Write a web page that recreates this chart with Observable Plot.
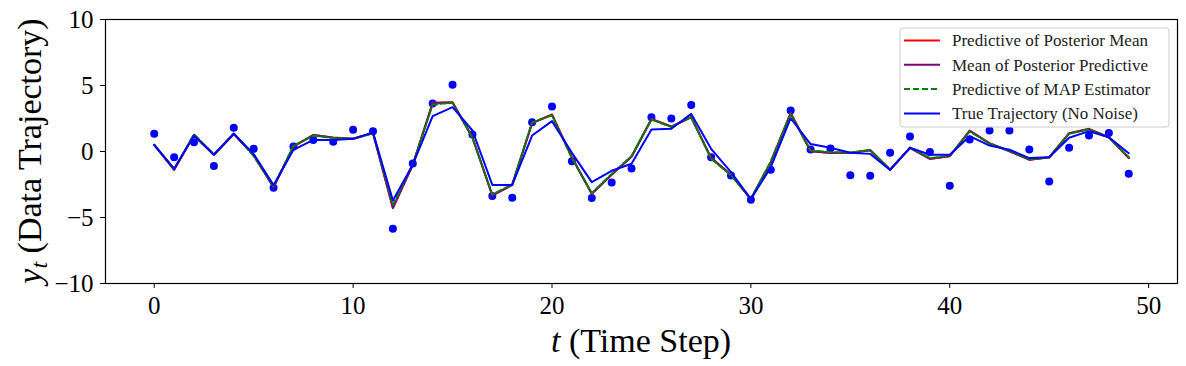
<!DOCTYPE html>
<html><head><meta charset="utf-8">
<script src="https://cdn.jsdelivr.net/npm/d3@7"></script>
<script src="https://cdn.jsdelivr.net/npm/@observablehq/plot@0.6"></script>
<style>body{margin:0;background:#fff}#chart{width:1186px;height:366px}</style>
</head><body><div id="chart"></div>
<script>
const timeSteps = d3.range(50);
const observations = [1.34,-0.43,0.71,-1.09,1.79,0.2,-2.75,0.38,0.88,0.73,1.64,1.54,
  -5.86,-0.91,3.64,5.05,1.29,-3.38,-3.51,2.22,3.41,-0.73,-3.53,-2.35,-1.29,2.6,2.5,
  3.53,-0.43,-1.82,-3.66,-1.39,3.1,0.15,0.23,-1.79,-1.84,-0.1,1.14,
  -0.03,-2.6,0.91,1.59,1.59,0.15,-2.27,0.28,1.21,1.41,-1.69];
const predPosteriorMean = [0.5,-1.39,1.26,-0.25,1.34,-0.25,-2.7,0.38,1.26,1.06,0.96,1.41,
  -4.29,-1.0,3.69,3.74,1.08,-3.33,-2.53,2.17,2.8,-0.43,-3.21,-1.76,-0.38,2.47,1.89,
  2.6,-0.48,-1.76,-3.6,-0.81,2.93,0.03,-0.1,-0.1,0.1,-1.39,0.28,
  -0.56,-0.35,1.59,0.63,0.03,-0.63,-0.43,1.39,1.72,1.08,-0.5];
const meanPosteriorPredictive = [0.5,-1.38,1.25,-0.25,1.33,-0.27,-2.72,0.37,1.25,1.05,0.95,1.4,
  -4.27,-1.02,3.67,3.72,1.06,-3.33,-2.53,2.15,2.78,-0.45,-3.2,-1.75,-0.4,2.45,1.88,
  2.58,-0.5,-1.77,-3.6,-0.83,2.9,0.02,-0.11,-0.1,0.09,-1.38,0.27,
  -0.55,-0.36,1.57,0.62,0.02,-0.62,-0.44,1.37,1.7,1.07,-0.48];
const predMAP = [0.5,-1.32,1.3,-0.22,1.36,-0.35,-2.65,0.42,1.2,1.02,0.98,1.38,
  -4.05,-0.95,3.55,3.7,1.02,-3.25,-2.5,2.2,2.75,-0.5,-3.15,-1.7,-0.35,2.42,1.85,
  2.62,-0.55,-1.8,-3.58,-0.75,2.85,0.08,-0.05,-0.08,0.12,-1.36,0.3,
  -0.5,-0.32,1.52,0.6,0.05,-0.6,-0.45,1.35,1.68,1.05,-0.42];
const trueTrajectory = [0.5,-1.3,1.2,-0.25,1.34,-0.2,-2.55,0.13,0.88,0.88,0.96,1.45,
  -3.71,-1.0,2.68,3.36,1.59,-2.53,-2.53,1.21,2.3,-0.1,-2.32,-1.46,-0.93,1.67,1.72,
  2.85,0.2,-1.56,-3.6,-1.19,2.52,0.56,0.28,-0.1,-0.18,-1.39,0.28,
  -0.25,-0.25,1.16,0.45,0.13,-0.5,-0.43,1.04,1.54,1.08,-0.13];
const xTicks = [0,10,20,30,40,50];
const yTicks = [-10,-5,0,5,10];
const seriesNames = ["Predictive of Posterior Mean","Mean of Posterior Predictive","Predictive of MAP Estimator","True Trajectory (No Noise)"];
const seriesColors = ["#ff0000","#800080","#008000","#0000ff"];
const seriesDash = [null,null,"6,3",null];

const rows = vals => timeSteps.map((t,i)=>({t, y: vals[i]}));
const plot = Plot.plot({
  width:1186, height:366, marginLeft:105, marginRight:9, marginTop:19, marginBottom:83,
  style:{fontFamily:"'Liberation Serif', serif", background:"white", color:"black", overflow:"visible"},
  x:{domain:[-2.45,51.45]}, y:{domain:[-10,10]},
  marks:[
    Plot.dot(rows(observations), {x:"t", y:"y", r:4, fill:"#0000ff", stroke:"none"}),
    Plot.line(rows(predPosteriorMean), {x:"t", y:"y", stroke:seriesColors[0], strokeWidth:2}),
    Plot.line(rows(meanPosteriorPredictive), {x:"t", y:"y", stroke:seriesColors[1], strokeWidth:2}),
    Plot.line(rows(predMAP), {x:"t", y:"y", stroke:seriesColors[2], strokeWidth:2, strokeDasharray:seriesDash[2]}),
    Plot.line(rows(trueTrajectory), {x:"t", y:"y", stroke:seriesColors[3], strokeWidth:2}),
    Plot.frame({stroke:"black", strokeWidth:1.2}),
    Plot.axisX({ticks:xTicks, tickSize:5, tickPadding:8, fontSize:25, label:null}),
    Plot.axisY({ticks:yTicks, tickSize:5, tickPadding:7, fontSize:25, label:null})
  ]
});
document.getElementById("chart").appendChild(plot);
const svg = d3.select(plot);
// x label
const xl = svg.append("text").attr("x",641).attr("y",352).attr("text-anchor","middle")
  .attr("font-size",34).attr("fill","black");
xl.append("tspan").attr("font-style","italic").text("t");
xl.append("tspan").text(" (Time Step)");
// y label
const yl = svg.append("text").attr("transform","translate(41,151) rotate(-90)")
  .attr("text-anchor","middle").attr("font-size",34).attr("fill","black");
yl.append("tspan").attr("font-style","italic").text("y");
yl.append("tspan").attr("font-style","italic").attr("font-size",24).attr("dy",6).text("t");
yl.append("tspan").attr("dy",-6).text(" (Data Trajectory)");
// legend
const lg = svg.append("g").attr("transform","translate(900,28)");
lg.append("rect").attr("width",269).attr("height",99).attr("rx",3)
  .attr("fill","white").attr("fill-opacity",0.8).attr("stroke","#cccccc");
seriesNames.forEach((name,i)=>{
  const yy = 12.5 + i*24.3;
  lg.append("line").attr("x1",4).attr("x2",40).attr("y1",yy).attr("y2",yy)
    .attr("stroke",seriesColors[i]).attr("stroke-width",2)
    .attr("stroke-dasharray",seriesDash[i]);
  lg.append("text").attr("x",52).attr("y",yy).attr("dy","0.35em")
    .attr("text-anchor","start").attr("font-size",17).attr("fill","#222").text(name);
});
</script></body></html>
